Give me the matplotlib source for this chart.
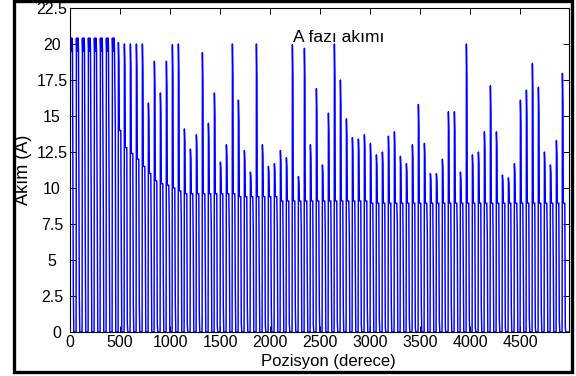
import numpy as np
import matplotlib.pyplot as plt
from matplotlib.patches import Rectangle

plt.rcParams['font.family'] = ['Liberation Sans', 'DejaVu Sans']

# ------------------------------------
# DATA
# ------------------------------------
# Peak current of each phase A pulse (A), one pulse every 60 degrees
peaks = [20.3, 20.3, 20.3, 20.3, 20.3, 20.3, 20.3, 20.3,
         20.1, 20.0, 20.0, 20.0, 20.0,
         15.9, 18.8, 16.6, 18.8, 19.95, 20.0, 14.1, 12.7, 13.7, 19.4, 14.5,
         16.6, 11.8, 13.0, 20.0, 16.1, 12.6, 11.1, 20.0, 13.0, 11.5, 11.7,
         12.6, 12.1, 19.95, 10.8, 19.7, 13.0, 16.9,
         11.6, 15.2, 20.0, 17.5, 14.8, 13.5, 13.4, 13.7, 13.1, 12.3, 12.5,
         13.6, 13.9, 12.2, 11.7, 13.0, 15.8, 13.1, 11.0, 11.0, 12.0, 15.3,
         15.3, 11.1, 20.0, 12.3, 12.5, 13.9, 17.1, 13.9, 10.9, 10.7, 11.7,
         16.1, 16.8, 18.65, 17.0, 12.5, 11.6, 13.3, 17.96]

# Level the current is held at after the peak (A); 20 = hysteresis chopping
plateau = [20.0, 20.0, 20.0, 20.0, 20.0, 20.0, 20.0, 20.0,
           14.0, 12.8, 12.4, 12.0, 11.5, 11.0, 10.5, 10.3, 10.2, 10.0, 9.8,
           9.6, 9.6, 9.6, 9.6, 9.6, 9.6, 9.6, 9.6, 9.6,
           9.4, 9.4, 9.4, 9.4, 9.4, 9.4, 9.4,
           9.1, 9.1, 9.1, 9.1, 9.1, 9.1, 9.1, 9.1, 9.1, 9.1, 9.1, 9.1, 9.1,
           9.1, 9.1,
           8.95, 8.95, 8.95, 8.95, 8.95, 8.95, 8.95, 8.95, 8.95, 8.95, 8.95,
           8.95, 8.95, 8.95, 8.95, 8.95, 8.95, 8.95, 8.95, 8.95, 8.95, 8.95,
           8.95, 8.95, 8.95, 8.95, 8.95, 8.95, 8.95, 8.95, 8.95, 8.95, 8.95]

# Intermediate sample seen on the falling edge of each pulse (A)
tails = [3.0, 2.5, 5.9, 6.8, 7.3, 8.8, 8.1, 14.4,
         6.0, 0.6, 2.0, 1.8, 6.9, 5.5, 0.5, 3.8, 7.7, 2.1, 7.8, 0.5,
         5.9, 1.2, 4.5, 7.2, 0.4, 1.7, 6.8, 3.0, 0.6, 1.8, 7.0, 4.0,
         0.5, 1.6, 6.9, 4.1, 0.6, 1.7, 7.1, 3.9, 0.5, 1.8, 6.8, 4.0,
         0.7, 1.6, 7.2, 4.2, 0.5, 1.7,
         4.0, 0.9, 0.3, 1.8, 7.6, 4.0, 0.9, 0.3, 1.9, 7.0, 4.0, 0.9,
         0.3, 1.8, 6.9, 4.0, 0.9, 0.3, 1.7, 6.7, 4.0, 0.9, 0.3, 1.6,
         6.6, 4.0, 0.9, 0.3, 1.5, 6.4, 4.0, 0.9, 0.3]

pulse_period = 60.0   # degrees between pulses
on_width = 27.0       # degrees the phase stays on
x_end = 4990          # last position of the simulation
chop_hi, chop_lo = 20.4, 19.5

x_ticks = [0, 500, 1000, 1500, 2000, 2500, 3000, 3500, 4000, 4500]
y_ticks = [0, 2.5, 5, 7.5, 10, 12.5, 15, 17.5, 20, 22.5]
y_tick_labels = ['0', '2.5', '5', '7.5', '10', '12.5', '15', '17.5', '20', '22.5']


# ------------------------------------
# BUILD WAVEFORM
# ------------------------------------
xs, ys = [], []
for k, (pk, pl, tl) in enumerate(zip(peaks, plateau, tails)):
    t0 = k * pulse_period + 1
    xs.append(t0)
    ys.append(0)
    if pl >= 19.9:
        # hysteresis band around 20 A
        t = t0 + 3
        hi = True
        while t < t0 + on_width:
            xs.append(t)
            ys.append(chop_hi if hi else chop_lo)
            hi = not hi
            t += 3
    else:
        xs += [t0 + 3, t0 + 8, t0 + 12, t0 + on_width]
        ys += [pk, pk - 0.22 * (pk - pl), pl, pl]
    xs += [t0 + on_width + 5, t0 + on_width + 10]
    ys += [tl, 0]
xs.append(x_end)
ys.append(0)


# ------------------------------------
# PLOT
# ------------------------------------
fig = plt.figure(figsize=(5.76, 3.76), dpi=100)
ax = fig.add_axes([70 / 576, 1 - 332 / 376, 499 / 576, 324 / 376])

ax.plot(xs, ys, color='#0000ff', linewidth=1.05)

ax.set_xlim(0, x_end)
ax.set_ylim(0, 22.5)
ax.set_xticks(x_ticks)
ax.set_yticks(y_ticks)
ax.set_yticklabels(y_tick_labels)
ax.tick_params(direction='in', top=True, right=True, length=4, width=0.7,
               labelsize=11.5, colors='black')
ax.tick_params(axis='x', pad=2.5)
ax.tick_params(axis='y', pad=13)
for lab in ax.get_yticklabels():
    lab.set_ha('center')
ax.get_yticklabels()[0].set_ha('left')
for sp in ax.spines.values():
    sp.set_linewidth(0.8)

ax.text(0.539, 0.910, 'A fazı akımı', transform=ax.transAxes,
        ha='center', va='center', fontsize=12.5)
ax.set_xlabel('Pozisyon (derece)', fontsize=12)
ax.set_ylabel('Akım (A)', fontsize=13)
ax.xaxis.set_label_coords(0.517, -0.090)
ax.yaxis.set_label_coords(-0.094, 0.5)
ax.xaxis.label.set_va('center')
ax.yaxis.label.set_va('center')

# black frame around the whole figure
fig.patches.append(Rectangle((13.5 / 576, 1 - 371.5 / 376), 558.5 / 576, 370.5 / 376,
                             transform=fig.transFigure, fill=False,
                             edgecolor='black', linewidth=2.4))

fig.savefig('out.png', dpi=100)
